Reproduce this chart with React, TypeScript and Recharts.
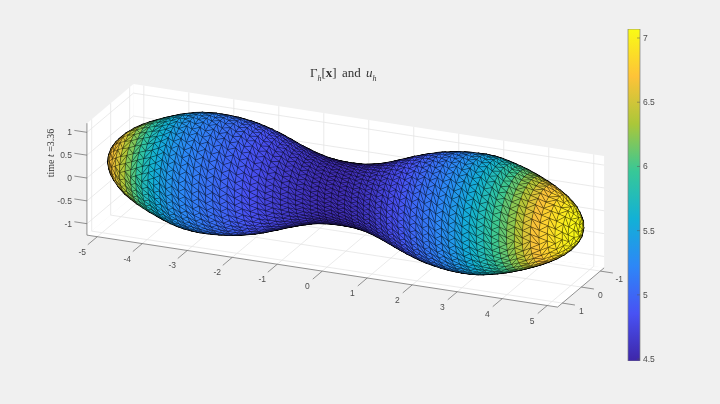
import React from 'react';
import { ScatterChart, Scatter, XAxis, YAxis, BarChart, Bar } from 'recharts';

const stationX = [
  -5.25, -5.23, -5.18, -5.1, -5.0, -4.88, -4.74, -4.58, -4.42, -4.28, -4.12, -3.96,
  -3.81, -3.66, -3.51, -3.36, -3.21, -3.06, -2.91, -2.76, -2.61, -2.46, -2.31, -2.16, -2.01, -1.86, -1.71, -1.56, -1.41, -1.26, -1.11, -0.96, -0.81, -0.66, -0.51, -0.36, -0.21, -0.06,
  0.09, 0.24, 0.39, 0.54, 0.69, 0.84, 0.99, 1.14, 1.29, 1.44, 1.59, 1.74, 1.89, 2.04, 2.19, 2.34, 2.49, 2.64, 2.79, 2.94, 3.09, 3.24, 3.39, 3.54, 3.69, 3.84,
  3.99, 4.14, 4.29, 4.44, 4.6, 4.75, 4.88, 5.0, 5.09, 5.17, 5.22, 5.25,
];
const stationRadius = [
  0, 0.13, 0.26, 0.38, 0.49, 0.6, 0.7, 0.79, 0.87, 0.93, 0.995, 1.05,
  1.1, 1.145, 1.18, 1.205, 1.22, 1.23, 1.23, 1.225, 1.215, 1.2, 1.18, 1.155, 1.12, 1.085, 1.04, 0.99, 0.94, 0.885, 0.835, 0.79, 0.745, 0.71, 0.68, 0.66, 0.65, 0.645,
  0.645, 0.65, 0.665, 0.69, 0.725, 0.77, 0.82, 0.875, 0.93, 0.985, 1.035, 1.08, 1.12, 1.155, 1.18, 1.205, 1.22, 1.23, 1.235, 1.235, 1.225, 1.205, 1.175, 1.14, 1.1, 1.055,
  1.005, 0.95, 0.89, 0.825, 0.745, 0.66, 0.57, 0.47, 0.37, 0.26, 0.14, 0,
];
const stationU = [
  6.72, 6.72, 6.72, 6.7, 6.68, 6.6, 6.45, 6.28, 6.12, 5.98, 5.8, 5.68,
  5.57, 5.47, 5.38, 5.31, 5.26, 5.21, 5.17, 5.12, 5.08, 5.04, 5.0, 4.96, 4.92, 4.88, 4.84, 4.8, 4.76, 4.72, 4.68, 4.65, 4.62, 4.6, 4.58, 4.56, 4.55, 4.55,
  4.55, 4.56, 4.58, 4.6, 4.62, 4.65, 4.69, 4.73, 4.78, 4.82, 4.87, 4.92, 4.98, 5.03, 5.09, 5.14, 5.2, 5.26, 5.33, 5.41, 5.5, 5.6, 5.7, 5.8, 5.92, 6.05,
  6.16, 6.3, 6.47, 6.62, 6.74, 6.84, 6.92, 6.98, 7.03, 7.05, 7.06, 7.06,
];
const stationSegments = [
  1, 6, 10, 14, 18, 22, 26, 30, 33, 36, 39, 42,
  ...Array(52).fill(44),
  42, 39, 36, 33, 30, 26, 22, 18, 14, 10, 6, 1,
];

const xTicks = [-5, -4, -3, -2, -1, 0, 1, 2, 3, 4, 5];
const yTicks = [-1, 0, 1];
const zTicks = [-1, -0.5, 0, 0.5, 1];
const colorTicks = [4.5, 5, 5.5, 6, 6.5, 7];

const X_LIM = [-5.23, 5.23];
const Y_LIM = [-1.2, 1.25];
const Z_LIM = [-1.25, 1.2];
const COLOR_LIM = [4.485, 7.07];

const PARULA = ['#3e26a8', '#4852f4', '#2d87f7', '#12b1d6', '#37c897', '#abc739', '#fec338', '#f9fb15'];

// view matrix of the 3d axes
const rowH = [0.922, -0.389, 0];
const rowV = [-0.141, -0.328, 0.936];
const viewDir = [0.303, 0.717, 0.297];
const project = (x: number, y: number, z: number) => ({
  h: rowH[0] * x + rowH[1] * y,
  v: rowV[0] * x + rowV[1] * y + rowV[2] * z,
});

const parula = (u: number) => {
  const t = Math.min(1, Math.max(0, (u - COLOR_LIM[0]) / (COLOR_LIM[1] - COLOR_LIM[0]))) * (PARULA.length - 1);
  const i = Math.min(PARULA.length - 2, Math.floor(t));
  const a = parseInt(PARULA[i].slice(1), 16);
  const b = parseInt(PARULA[i + 1].slice(1), 16);
  const mix = (s: number) => Math.round(((a >> s) & 255) * (1 - t + i) + ((b >> s) & 255) * (t - i));
  return `rgb(${mix(16)},${mix(8)},${mix(0)})`;
};

type P3 = [number, number, number];
const ringPoint = (st: number, k: number): P3 => {
  const n = stationSegments[st];
  const a = ((k + (st % 2) * 0.5) / n) * Math.PI * 2;
  return [stationX[st], stationRadius[st] * Math.cos(a), stationRadius[st] * Math.sin(a)];
};

const facets: { pts: P3[]; color: string; depth: number }[] = [];
for (let st = 0; st < stationX.length - 1; st++) {
  const na = stationSegments[st];
  const nb = stationSegments[st + 1];
  let i = 0;
  let j = 0;
  while (i < na || j < nb) {
    const stepA = j >= nb || (i < na && (i + 1) / na <= (j + 1) / nb);
    const c = stepA ? ringPoint(st, i + 1) : ringPoint(st + 1, j + 1);
    const pts: P3[] = [ringPoint(st, i), ringPoint(st + 1, j), c];
    if (stepA) i++;
    else j++;
    // outward normal, keep only what faces the viewer
    const [A, B, C] = pts;
    const ab = [B[0] - A[0], B[1] - A[1], B[2] - A[2]];
    const ac = [C[0] - A[0], C[1] - A[1], C[2] - A[2]];
    const normal = [ac[1] * ab[2] - ac[2] * ab[1], ac[2] * ab[0] - ac[0] * ab[2], ac[0] * ab[1] - ac[1] * ab[0]];
    if (normal[0] * viewDir[0] + normal[1] * viewDir[1] + normal[2] * viewDir[2] <= 0) continue;
    const depth = ((A[0] + B[0] + C[0]) * viewDir[0] + (A[1] + B[1] + C[1]) * viewDir[1] + (A[2] + B[2] + C[2]) * viewDir[2]) / 3;
    facets.push({ pts, color: parula((stationU[st] + stationU[st + 1]) / 2), depth });
  }
}
facets.sort((a, b) => a.depth - b.depth);
const facetData = facets.flatMap((f) => f.pts.map((q) => project(q[0], q[1], q[2])));

const [x0, x1] = X_LIM;
const [y0, y1] = Y_LIM;
const [z0, z1] = Z_LIM;
const wallData = [
  [x0, y0, z0], [x1, y0, z0], [x1, y0, z1], [x0, y0, z1],
  [x0, y0, z0], [x0, y1, z0], [x0, y1, z1], [x0, y0, z1],
  [x0, y0, z0], [x1, y0, z0], [x1, y1, z0], [x0, y1, z0],
].map((q) => project(q[0], q[1], q[2]));

const seg = (a: number[], b: number[]) => [project(a[0], a[1], a[2]), project(b[0], b[1], b[2])];
const gridData = [
  ...xTicks.flatMap((x) => [...seg([x, y0, z0], [x, y0, z1]), ...seg([x, y0, z0], [x, y1, z0])]),
  ...yTicks.flatMap((y) => [...seg([x0, y, z0], [x1, y, z0]), ...seg([x0, y, z0], [x0, y, z1])]),
  ...zTicks.flatMap((z) => [...seg([x0, y0, z], [x1, y0, z]), ...seg([x0, y0, z], [x0, y1, z])]),
];
const axisData = [
  ...seg([x0, y1, z0], [x1, y1, z0]),
  ...seg([x1, y0, z0], [x1, y1, z0]),
  ...seg([x0, y1, z0], [x0, y1, z1]),
  ...xTicks.flatMap((x) => seg([x, y1, z0], [x, y1 + 0.5, z0])),
  ...yTicks.flatMap((y) => seg([x1, y, z0], [x1 + 0.28, y, z0])),
  ...zTicks.flatMap((z) => seg([x0, y1, z], [x0 - 0.28, y1, z])),
];
const tickLabels = [
  ...xTicks.map((x) => ({ ...project(x, y1, z0), text: String(x), dx: -15, dy: 15, anchor: 'middle' })),
  ...yTicks.map((y) => ({ ...project(x1, y, z0), text: String(y), dx: 19, dy: 8, anchor: 'middle' })),
  ...zTicks.map((z) => ({ ...project(x0, y1, z), text: String(z), dx: -15, dy: 0, anchor: 'end' })),
];

// px per view unit fixes the chart domain so the box lands where the reference has it
const SCALE = 48.8;
const H_DOMAIN = [-346 / SCALE, (720 - 346) / SCALE];
const V_DOMAIN = [(194 - 404) / SCALE, 194 / SCALE];

const polygons = (size: number, style: (i: number) => React.SVGProps<SVGPathElement>) => (props: any) => {
  const out = [];
  const pts = props.points;
  for (let i = 0; i + size <= pts.length; i += size) {
    const poly = pts.slice(i, i + size);
    if (poly.some((p: any) => p.x == null || p.y == null)) continue;
    const d = poly.map((p: any, k: number) => `${k ? 'L' : 'M'}${p.x.toFixed(2)} ${p.y.toFixed(2)}`).join('') + (size > 2 ? 'Z' : '');
    out.push(<path key={i} d={d} {...style(i / size)} />);
  }
  return <g>{out}</g>;
};
const noDot = () => <g />;

const TickText = (props: any) => (
  <text x={props.cx + props.payload.dx} y={props.cy + props.payload.dy} textAnchor={props.payload.anchor} dominantBaseline="central" fontSize={8.5} fontFamily="Liberation Sans" fill="#4d4d4d">
    {props.payload.text}
  </text>
);

const ColorTick = (props: any) => (
  <g>
    <line x1={props.x - 11} x2={props.x - 8} y1={props.y} y2={props.y} stroke="#555" strokeWidth={0.5} />
    <text x={props.x - 5} y={props.y} dominantBaseline="central" fontSize={8.5} fontFamily="Liberation Sans" fill="#4d4d4d">
      {props.payload.value}
    </text>
  </g>
);

const colorBarData = [{ name: 'u', range: COLOR_LIM }];

const serif = { position: 'absolute' as const, fontFamily: 'Liberation Serif', color: '#333', whiteSpace: 'nowrap' as const };
const subH = { fontSize: 8, fontStyle: 'italic', lineHeight: 0 };

export default function App() {
  return (
    <div style={{ position: 'absolute', left: 0, top: 0, width: 720, height: 404, background: '#f0f0f0', overflow: 'hidden', filter: 'blur(0.35px)' }}>
      <ScatterChart width={720} height={404} margin={{ top: 0, right: 0, bottom: 0, left: 0 }}>
        <XAxis type="number" dataKey="h" domain={H_DOMAIN} hide allowDataOverflow />
        <YAxis type="number" dataKey="v" domain={V_DOMAIN} hide allowDataOverflow />
        <Scatter data={wallData} shape={noDot} isAnimationActive={false} line={polygons(4, () => ({ fill: '#ffffff', stroke: 'none' }))} />
        <Scatter data={gridData} shape={noDot} isAnimationActive={false} line={polygons(2, () => ({ fill: 'none', stroke: '#e4e4e4', strokeWidth: 0.8 }))} />
        <Scatter data={axisData} shape={noDot} isAnimationActive={false} line={polygons(2, () => ({ fill: 'none', stroke: '#666666', strokeWidth: 0.7 }))} />
        <Scatter data={facetData} shape={noDot} isAnimationActive={false} line={polygons(3, () => ({ fill: '#000000', stroke: '#000000', strokeWidth: 1.5, strokeLinejoin: 'round' }))} />
        <Scatter data={facetData} shape={noDot} isAnimationActive={false} line={polygons(3, (i) => ({ fill: facets[i].color, stroke: '#000000', strokeWidth: 0.3, strokeOpacity: 0.85, strokeLinejoin: 'round' }))} />
        <Scatter data={tickLabels} shape={TickText} isAnimationActive={false} />
      </ScatterChart>
      <div style={{ position: 'absolute', left: 620, top: 0 }}>
        <BarChart width={60} height={404} data={colorBarData} margin={{ top: 29, right: 0, bottom: 43, left: 8 }} barCategoryGap={0}>
          <defs>
            <linearGradient id="parula" x1="0" y1="1" x2="0" y2="0">
              {PARULA.map((c, i) => (
                <stop key={c} offset={i / (PARULA.length - 1)} stopColor={c} />
              ))}
            </linearGradient>
          </defs>
          <XAxis dataKey="name" hide />
          <YAxis orientation="right" width={40} domain={COLOR_LIM} ticks={colorTicks} axisLine={false} tickLine={false} tick={ColorTick} interval={0} allowDataOverflow />
          <Bar dataKey="range" fill="url(#parula)" stroke="#808080" strokeWidth={0.7} isAnimationActive={false} />
        </BarChart>
      </div>
      <div style={{ ...serif, left: 310, top: 65, fontSize: 13, wordSpacing: 2 }}>
        Γ<sub style={subH}>h</sub>[<b>x</b>] and <i>u</i>
        <sub style={subH}>h</sub>
      </div>
      <div style={{ ...serif, left: 50, top: 153, fontSize: 10, transform: 'translate(-50%,-50%) rotate(-90deg)' }}>
        time <i>t</i> =3.36
      </div>
    </div>
  );
}
